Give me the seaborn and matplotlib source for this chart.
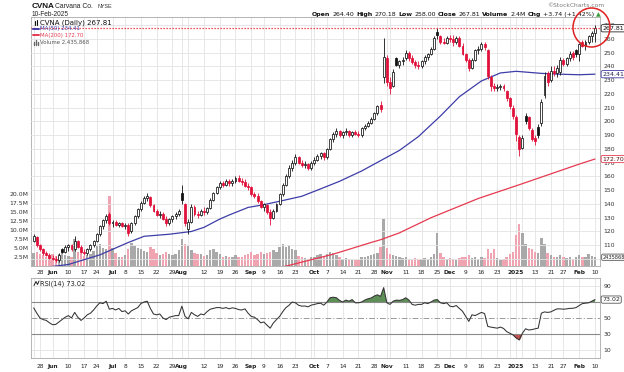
import numpy as np
import pandas as pd
import matplotlib
matplotlib.use("Agg")
import matplotlib.pyplot as plt
import seaborn as sns
from matplotlib.patches import Ellipse
from matplotlib.lines import Line2D
from matplotlib.transforms import blended_transform_factory as blend

# ---------------- data ----------------
holidays = ["2024-05-27", "2024-06-19", "2024-07-04", "2024-09-02", "2024-11-28",
            "2024-12-25", "2025-01-01", "2025-01-09", "2025-01-20"]

opens = [113,116,110,107,104,103,101,100,99,107,
         105,109,110,107,113,109,105,104,107,110,
         113,118,124,128,133,126,127,125,126,124,
         125,120,126,131,136,141,144,145,139,135,
         132,133,129,126,129,131,133,148,140,122,
         127,138,133,132,135,134,137,143,148,152,
         155,154,157,155,157,159,157,156,153,152,
         147,146,142,138,139,134,130,135,140,147,
         154,160,166,170,174,170,168,169,166,170,
         172,175,177,174,180,187,191,193,190,192,
         193,190,192,191,190,195,197,199,202,206,
         212,232,246,229,226,246,241,244,246,250,
         246,243,241,240,244,247,249,253,265,262,
         258,257,261,260,258,261,255,249,245,239,
         245,252,253,256,252,232,226,224,225,226,
         222,217,210,203,189,181,204,203,194,188,
         196,199,219,235,230,237,235,236,245,242,
         246,250,252,249,258,255,258,262,264.40]
highs = [118,117,111,108,106,104,103,102,104,108,
         110,111,111,117,114,110,107,108,111,114,
         119,125,129,133,134,128,128,127,127,126,
         126,127,132,137,142,146,148,146,140,136,
         135,134,131,130,132,134,136,154,141,129,
         140,139,135,136,138,138,144,149,153,157,
         157,158,158,158,160,161,159,158,155,153,
         149,148,143,141,140,136,136,141,148,155,
         162,168,172,176,175,172,171,170,171,174,
         176,178,178,181,188,192,195,194,193,195,
         194,193,194,193,196,198,200,203,207,212,
         215,261,248,232,238,247,245,247,252,251,
         248,245,244,245,248,250,254,262,268,263,
         261,262,263,263,262,262,257,250,246,246,
         253,255,258,258,253,234,228,227,227,227,
         223,218,212,205,190,190,206,204,195,190,
         198,216,236,237,240,240,241,247,246,247,
         251,251,253,257,259,259,263,266,270.18]
lows = [112,109,106,103,102,100,99,98,98,104,
        104,106,106,106,108,104,103,103,106,109,
        112,117,122,126,125,123,124,123,123,122,
        117,119,125,130,135,140,142,138,134,131,
        130,128,124,125,127,129,131,140,124,118,
        126,131,130,131,132,133,136,142,147,151,
        152,153,153,153,155,156,154,152,150,146,
        144,141,137,135,133,125,129,134,139,146,
        153,159,164,168,169,167,166,165,165,168,
        171,173,172,173,179,185,189,189,188,190,
        189,189,190,189,189,194,196,198,201,205,
        207,228,226,220,225,240,239,241,245,244,
        242,239,238,239,242,245,248,252,260,256,
        256,256,258,255,256,254,248,243,237,238,
        244,249,251,252,231,222,222,222,223,222,
        215,209,202,186,175,180,198,194,186,183,
        188,197,217,226,229,233,232,234,240,240,
        244,245,247,244,254,252,256,258,258.00]
closes = [117,110,107,104,103,101,100,99,103,105,
          109,110,107,113,109,105,104,107,110,113,
          118,124,128,131,126,127,125,126,124,125,
          119,126,131,136,141,144,146,139,135,132,
          133,129,126,129,131,133,135,143,126,127,
          138,133,132,135,134,137,143,148,152,155,
          154,157,155,157,159,157,156,153,152,147,
          146,142,138,140,134,130,135,140,147,154,
          160,166,170,174,170,168,169,166,170,172,
          175,177,174,180,187,191,193,190,192,193,
          190,192,191,190,195,197,199,202,206,211,
          209,247,229,224,236,241,244,245,250,246,
          243,241,240,244,247,249,253,261,263,258,
          257,261,260,258,261,255,249,245,239,245,
          252,253,256,254,233,226,224,225,226,224,
          217,211,204,191,180,188,200,195,187,186,
          190,214,233,229,237,235,239,245,242,246,
          249,247,249,256,255,258,262,264.07,267.81]
volume_m = [3.5,4.0,3.2,3.0,2.6,3.0,3.4,2.8,3.2,4.5,
            3.0,2.8,2.6,7.6,4.0,3.5,2.8,3.0,3.2,4.2,
            5.5,6.2,5.0,4.6,19.5,5.0,3.6,2.5,2.4,3.0,
            4.8,6.4,5.5,5.0,4.6,4.2,4.0,5.2,4.6,3.6,
            3.0,3.4,3.8,3.2,3.0,3.4,4.5,7.6,6.2,5.5,
            4.5,3.6,3.2,3.4,2.8,3.0,4.4,4.6,3.8,3.4,
            2.6,2.8,2.4,2.6,3.0,2.6,2.4,3.0,3.2,3.8,
            3.0,3.4,3.8,3.2,3.6,4.0,4.5,4.0,5.2,6.0,
            5.4,5.8,4.8,4.4,2.8,2.4,2.2,2.0,2.4,2.6,
            3.0,3.2,2.6,3.4,4.0,3.6,3.0,2.4,2.0,2.2,
            2.0,1.8,1.8,1.8,2.4,2.6,2.8,3.0,3.2,3.6,
            5.4,13.2,5.0,3.4,3.0,2.8,2.4,2.2,2.6,2.0,
            1.8,2.2,2.0,2.0,2.2,2.0,2.4,3.4,9.2,3.6,
            2.4,2.0,2.2,2.0,1.8,2.2,2.4,2.6,3.0,2.2,
            2.6,2.0,2.4,2.2,4.6,3.6,4.8,2.2,1.6,2.0,
            2.6,3.2,4.0,8.5,11.7,9.2,6.0,5.0,4.6,4.0,
            3.6,7.9,6.0,3.6,3.0,2.4,2.6,3.0,2.4,2.2,
            2.4,2.0,2.4,3.0,2.6,2.4,3.4,2.8,2.44]
rsi14 = [62.7,56,50,48,47,44,41.6,42,45,48,
         51,53,50,57,51,47,50,54,56,60,
         65,69,68,71,61,62,60,62,58,59,
         55,59,61,63,68,70,71,62,55,54,
         55,50,48,51,52,53,53,64.8,52,49,
         57,54,52,55,54,58,61,62,63,63,
         62,63,61.5,62.7,62,60.5,60,61.4,56,52,
         51,48,44,45,41,37.3,43.7,48,52,58,
         63,66,70,69,66,64.8,65,64,66,67,
         68,68.5,66,70,75.3,76,75.3,72,70,72.4,
         71,73,69,69,70,72.4,74,75,77.4,79,
         77,88,69,67,71,72.4,72,73,75.3,72.4,
         67,66,67,67,69,68,70,72.4,73,69,
         68,69,64.8,64,65.6,62,58.4,52,45.8,54,
         53,55,57,55.5,39.5,38.6,38,37.3,38.6,37,
         33,31,28.9,25,22.6,31,36.5,35,35.5,36.5,
         37.3,56,57.6,57,57.6,59.7,61.4,61.4,61,61.4,
         62,62.2,63,65.6,68,68.5,69,71,73.02]

ma50_dates = ["2024-05-23","2024-05-30","2024-06-10","2024-06-25","2024-07-09","2024-07-16",
              "2024-07-26","2024-08-06","2024-08-12","2024-08-19","2024-08-22","2024-08-30",
              "2024-09-09","2024-09-16","2024-09-25","2024-10-03","2024-10-11","2024-10-22",
              "2024-10-30","2024-11-07","2024-11-15","2024-11-26","2024-12-05","2024-12-16",
              "2024-12-24","2025-01-02","2025-01-15","2025-01-24","2025-02-03","2025-02-10"]
ma50_vals = [92,94,96,103,112,116.5,118,120,123,129,132,137.5,139.5,142,145.6,151,156.5,164,
             171.5,179,189,204,218,229.5,235.3,236.5,235,234.4,234,234.41]
ma200_dates = ["2024-09-12","2024-09-18","2024-10-09","2024-10-25","2024-10-30","2024-11-07",
               "2024-11-21","2024-12-13","2025-01-03","2025-02-03","2025-02-10"]
ma200_vals = [93,94.8,103.5,112,114,119,130,144,154,169,172.70]

tick_dates = ["2024-05-28","2024-06-03","2024-06-10","2024-06-17","2024-06-24","2024-07-01",
              "2024-07-08","2024-07-15","2024-07-22","2024-07-29","2024-08-01","2024-08-12",
              "2024-08-19","2024-08-26","2024-09-03","2024-09-09","2024-09-16","2024-09-23",
              "2024-10-01","2024-10-07","2024-10-14","2024-10-21","2024-10-28","2024-11-01",
              "2024-11-11","2024-11-18","2024-11-25","2024-12-02","2024-12-09","2024-12-16",
              "2024-12-23","2025-01-02","2025-01-13","2025-01-21","2025-01-27","2025-02-03",
              "2025-02-10"]
tick_labels = ["28","Jun","10","17","24","Jul","8","15","22","29","Aug","12","19","26","Sep",
               "9","16","23","Oct","7","14","21","28","Nov","11","18","25","Dec","9","16","23",
               "2025","13","21","27","Feb","10"]
bold_labels = {"Jun","Jul","Aug","Sep","Oct","Nov","Dec","2025","Feb"}
price_ticks = list(range(110, 271, 10))
vol_ticks = [2.5, 5.0, 7.5, 10.0, 12.5, 15.0, 17.5, 20.0]
rsi_ticks = [10, 30, 50, 90]

# ---------------- style ----------------
sns.set_theme(style="white")
plt.rcParams["font.family"] = ["DejaVu Sans"]
plt.rcParams["axes.linewidth"] = 0.6

dates = pd.bdate_range("2024-05-23", "2025-02-10", freq="C", holidays=holidays)
n = len(dates)
for arr in (opens, highs, lows, closes, volume_m, rsi14):
    assert len(arr) == n, (len(arr), n)
pos = np.arange(n)
date_pos = {d.strftime("%Y-%m-%d"): k for k, d in enumerate(dates)}

o = np.array(opens, float); h = np.array(highs, float)
l = np.array(lows, float); c = np.array(closes, float)
vol = np.array(volume_m, float); rsi = np.array(rsi14, float)
prev = np.r_[o[0], c[:-1]]
down = c < prev
RED = "#e0103a"
edge = [RED if d else "#111111" for d in down]
face = [e if cc < oo else "white" for e, cc, oo in zip(edge, c, o)]
vcol = ["#f0a3b1" if d else "#a9a9a9" for d in down]

W, H = 624, 372
fx = lambda px: px / W
fy = lambda py: 1 - py / H

fig = plt.figure(figsize=(6.24, 3.72), dpi=100)
fig.patch.set_facecolor("white")
rect_price = [fx(31), fy(266), fx(600) - fx(31), fy(17) - fy(266)]
rect_rsi = [fx(31), fy(358), fx(600) - fx(31), fy(278) - fy(358)]
axv = fig.add_axes(rect_price)
ax = fig.add_axes(rect_price)
ax.patch.set_visible(False)
axr = fig.add_axes(rect_rsi)

XL = (-0.85, 179.6)
GRID = "#e3e3e3"
week_starts = [k for k in range(n) if k == 0 or dates[k].weekday() < dates[k - 1].weekday()]
grid_x = sorted(set(week_starts) | {date_pos[d] for d in tick_dates})

# volume (bottom layer)
axv.vlines(grid_x, 0, 80, color=GRID, lw=0.6, zorder=0)
axv.bar(pos, vol, width=0.76, color=vcol, linewidth=0, zorder=2)
axv.set_ylim(0, 69.2)
axv.set_xlim(*XL)
axv.set_xticks([])
axv.yaxis.tick_left()
axv.set_yticks(vol_ticks)
axv.set_yticklabels([f"{v:.1f}M" for v in vol_ticks])
axv.tick_params(axis="y", length=0, pad=2, labelsize=4.4, labelcolor="#333333")
for s in axv.spines.values():
    s.set_color("#a8a8a8"); s.set_linewidth(0.6)

# price (top layer)
for p in range(100, 271, 10):
    ax.axhline(p, color=GRID, lw=0.6, zorder=0)
ma50_df = pd.DataFrame({"x": [date_pos[d] for d in ma50_dates], "v": ma50_vals})
ma200_df = pd.DataFrame({"x": [date_pos[d] for d in ma200_dates], "v": ma200_vals})
sns.lineplot(data=ma50_df, x="x", y="v", ax=ax, color="#3d3da8", lw=0.9, zorder=2)
sns.lineplot(data=ma200_df, x="x", y="v", ax=ax, color="#e63950", lw=0.9, zorder=2)
ax.vlines(pos, l, h, colors=edge, lw=0.6, zorder=3)
bottom = np.minimum(o, c)
height = np.maximum(np.abs(c - o), 0.45)
ax.bar(pos, height, bottom=bottom, width=0.62, color=face, edgecolor=edge, linewidth=0.55, zorder=4)
ax.axhline(closes[-1], color="#e8202a", lw=0.9, linestyle=(0, (1, 1.4)), zorder=5)
ax.set_xlim(*XL)
ax.set_ylim(94.9, 276.0)
ax.set_xlabel(""); ax.set_ylabel("")
ax.set_xticks([])
ax.yaxis.tick_right()
ax.set_yticks(price_ticks)
ax.set_yticklabels([str(p) for p in price_ticks])
ax.tick_params(axis="y", length=0, pad=2.5, labelsize=4.4, labelcolor="#333333")
for s in ax.spines.values():
    s.set_visible(False)

# RSI panel
axr.vlines(grid_x, 0, 100, color=GRID, lw=0.6, zorder=0)
for lvl in (10, 90):
    axr.axhline(lvl, color=GRID, lw=0.6, zorder=0)
axr.fill_between(pos, 70, rsi, where=rsi >= 70, interpolate=True, color="#5e8f57", lw=0, zorder=1)
axr.fill_between(pos, 30, rsi, where=rsi <= 30, interpolate=True, color="#c0504d", lw=0, zorder=1)
axr.axhline(70, color="#8a8a8a", lw=0.8, zorder=1)
axr.axhline(30, color="#8a8a8a", lw=0.8, zorder=1)
axr.axhline(50, color="#9a9a9a", lw=0.7, linestyle=(0, (6, 2, 1.2, 2)), zorder=1)
sns.lineplot(x=pos, y=rsi, ax=axr, color="#333333", lw=0.75, zorder=3)
axr.set_xlim(*XL)
axr.set_ylim(0, 100)
axr.set_xlabel(""); axr.set_ylabel("")
axr.set_xticks([])
axr.yaxis.tick_right()
axr.set_yticks(rsi_ticks)
axr.set_yticklabels([str(t) for t in rsi_ticks])
axr.tick_params(axis="y", length=0, pad=2.5, labelsize=4.4, labelcolor="#333333")
for s in axr.spines.values():
    s.set_color("#a8a8a8"); s.set_linewidth(0.6)

# date labels under both panels
for d, lab in zip(tick_dates, tick_labels):
    k = date_pos[d]
    wt = "bold" if lab in bold_labels else "normal"
    ax.text(k, -0.027, lab, transform=blend(ax.transData, ax.transAxes), ha="center", va="center",
            fontsize=4.2, fontweight=wt, color="#222222", clip_on=False)
    axr.text(k, -0.105, lab, transform=blend(axr.transData, axr.transAxes), ha="center", va="center",
             fontsize=4.2, fontweight=wt, color="#222222", clip_on=False)

# value boxes on right edge
def vbox(axis, y, txt, ec, tc, fs=4.5, pad=0.18):
    axis.text(1.004, y, txt, transform=blend(axis.transAxes, axis.transData), ha="left", va="center",
              fontsize=fs, color=tc, zorder=10, clip_on=False,
              bbox=dict(boxstyle=f"round,pad={pad},rounding_size=0.25", fc="white", ec=ec, lw=0.6))

vbox(ax, closes[-1], "267.81", "#222222", "#111111")
vbox(ax, ma50_vals[-1], "234.41", "#3d3da8", "#222255")
vbox(ax, ma200_vals[-1], "172.70", "#e63950", "#551111")
vbox(axv, volume_m[-1], "2435868", "#555555", "#222222", fs=3.7, pad=0.12)
vbox(axr, rsi14[-1], "73.02", "#555555", "#222222")

# header texts
LIB = ["Liberation Sans", "DejaVu Sans"]
fig.text(fx(31.5), fy(6), "CVNA", fontsize=5.9, fontweight="bold", family=LIB, va="center", color="#111111")
fig.text(fx(55), fy(6.3), "Carvana Co.", fontsize=4.9, family=LIB, va="center", color="#222222")
fig.text(fx(97), fy(6.3), "NYSE", fontsize=3.9, family=LIB, va="center", color="#333333")
fig.text(fx(31.5), fy(14.5), "10-Feb-2025", fontsize=4.7, family=LIB, va="center", color="#222222")
fig.text(fx(604), fy(5.5), "\u00a9StockCharts.com", fontsize=4.3, ha="right", va="center", color="#7a7a7a")

renderer = fig.canvas.get_renderer()
parts = [("Open", True), ("264.40", False), ("High", True), ("270.18", False), ("Low", True),
         ("258.00", False), ("Close", True), ("267.81", False), ("Volume", True), ("2.4M", False),
         ("Chg", True), ("+3.74 (+1.42%)", False), ("\u25b2", False)]
items, widths = [], []
for txt, b in parts:
    t = fig.text(0, fy(14.5), txt, fontsize=4.5, fontweight="bold" if b else "normal",
                 color="#3c9c3c" if txt == "\u25b2" else "#111111", va="center", ha="left")
    items.append(t); widths.append(t.get_window_extent(renderer=renderer).width)
gap = 2.0
xcur = 601 - (sum(widths) + gap * (len(parts) - 1))
for t, w in zip(items, widths):
    t.set_x(fx(xcur)); xcur += w + gap

# legend inside the price panel
fig.text(fx(40), fy(22.7), "CVNA (Daily) 267.81", fontsize=5.0, va="center", color="#111111")
fig.add_artist(Line2D([fx(34.5), fx(34.5)], [fy(20.5), fy(25)], color="#111111", lw=0.8))
fig.add_artist(Line2D([fx(37), fx(37)], [fy(20), fy(24.5)], color="#111111", lw=0.8))
fig.text(fx(39.5), fy(28.7), "MA(50) 234.41", fontsize=3.9, va="center", color="#3d3da8")
fig.add_artist(Line2D([fx(33), fx(38.5)], [fy(28.7), fy(28.7)], color="#3d3da8", lw=1.4))
fig.text(fx(39.5), fy(35.3), "MA(200) 172.70", fontsize=3.9, va="center", color="#e63950")
fig.add_artist(Line2D([fx(33), fx(38.5)], [fy(35.3), fy(35.3)], color="#e63950", lw=1.4))
fig.text(fx(39.5), fy(42.3), "Volume 2,435,868", fontsize=3.9, va="center", color="#555555")
for xx, hh in ((33.5, 3), (35.5, 4.5), (37.5, 2.5)):
    fig.add_artist(Line2D([fx(xx), fx(xx)], [fy(44.5), fy(44.5 - hh)], color="#666666", lw=1.0))
# RSI title
fig.text(fx(40), fy(283.5), "RSI(14) 73.02", fontsize=4.8, va="center", color="#222222")
fig.add_artist(Line2D([fx(34), fx(36), fx(37.5), fx(39)], [fy(285.5), fy(281.5), fy(284.5), fy(281)],
                      color="#222222", lw=0.7))

# red highlight circle
fig.add_artist(Ellipse((fx(591.5), fy(27.5)), width=37 / W, height=39 / H, transform=fig.transFigure,
                       fill=False, ec="#e02020", lw=1.1, zorder=20))

fig.savefig("out.png", dpi=100)
